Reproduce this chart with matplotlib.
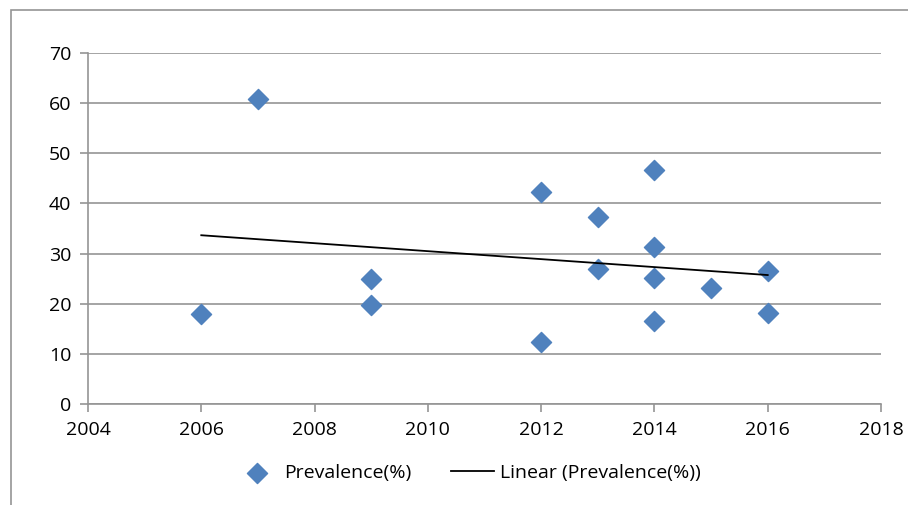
import matplotlib.pyplot as plt
import matplotlib.patches as mpatches
import numpy as np

plt.rcParams['font.family'] = ['Open Sans', 'DejaVu Sans']

# data
years = [2006, 2007, 2009, 2009, 2012, 2012, 2013, 2013,
         2014, 2014, 2014, 2014, 2015, 2016, 2016]
prevalence = [18.0, 60.9, 25.0, 19.7, 42.3, 12.3, 37.2, 27.0,
              46.7, 31.3, 25.2, 16.6, 23.2, 26.6, 18.2]
xticks = [2004, 2006, 2008, 2010, 2012, 2014, 2016, 2018]
yticks = [0, 10, 20, 30, 40, 50, 60, 70]

grey = '#959595'
blue = '#4F81BD'

fig = plt.figure(figsize=(9.08, 5.05), dpi=100)
ax = fig.add_axes([88 / 908, 1 - 404 / 505, (881 - 88) / 908, (404 - 53) / 505])

# outer chart border (as in the spreadsheet export)
fig.patches.append(mpatches.Rectangle((11 / 908, -0.1), 1.2, 1 - 10 / 505 + 0.1,
                                      transform=fig.transFigure, fill=False,
                                      edgecolor=grey, linewidth=1.2))

ax.scatter(years, prevalence, marker='D', s=105, color=blue, zorder=3,
           label='Prevalence(%)')

# linear trendline
k, b = np.polyfit(years, prevalence, 1)
xt = np.array([min(years), max(years)])
ax.plot(xt, k * xt + b, color='black', lw=1.3, zorder=4,
        label='Linear (Prevalence(%))')

ax.set_xlim(2004, 2018)
ax.set_ylim(0, 70)
ax.set_xticks(xticks)
ax.set_yticks(yticks)
ax.yaxis.grid(True, color=grey, lw=1.2)
ax.set_axisbelow(True)
for s in ['top', 'right']:
    ax.spines[s].set_visible(False)
for s in ['left', 'bottom']:
    ax.spines[s].set_color(grey)
    ax.spines[s].set_linewidth(1.2)
ax.tick_params(colors=grey, labelcolor='black', labelsize=14, length=6, width=1.2)
ax.tick_params(axis='y', pad=6)
ax.tick_params(axis='x', pad=6)

fig.legend(loc='center', bbox_to_anchor=(468 / 908, 1 - 473 / 505), ncol=2,
           frameon=False, fontsize=14, handlelength=2.2, columnspacing=2.05,
           handletextpad=0.3)

fig.savefig('out.png')
